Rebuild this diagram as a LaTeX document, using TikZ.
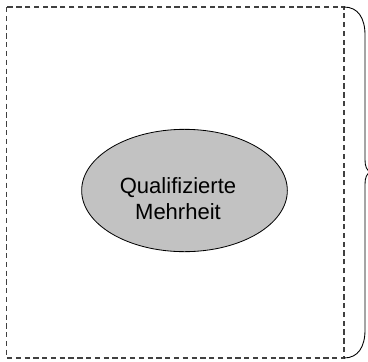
\documentclass[tikz,border=0pt]{standalone}
\usepackage{fontspec}
\setmainfont{Liberation Sans}
\usetikzlibrary{shapes.geometric}

\begin{document}
\begin{tikzpicture}[x=0.03cm, y=-0.03cm]
						\tikzstyle{frame}=[draw=black!75, line width=0.95pt, dash pattern=on 4.5pt off 3pt]
						\tikzstyle{blob}=[ellipse, draw, line width=0.7pt, fill=black!24, inner sep=0pt, minimum width=6.17cm, minimum height=3.67cm]
						\tikzstyle{word}=[inner sep=0pt, align=center, font=\fontsize{18.8}{22.5}\selectfont]
						\useasboundingbox (0,0) rectangle (368,361);
						\draw (6.5,7) coordinate (tl);
						\draw (344,358) coordinate (br);
						\draw[frame] (tl) rectangle (br);
						\draw (184.5,190.5) node (qm) [blob] {};
						\draw (178,198.7) node (qmtext) [word] {Qualifizierte\\Mehrheit};
						\draw (344,7) coordinate (b1);
						\draw (344,358) coordinate (b2);
						\draw[line width=0.75pt] (b1) .. controls (358,7) and (365,18) .. (365,35) -- (365,160)
							.. controls (365,167) and (367,170) .. (370,172)
							.. controls (367,174) and (365,177) .. (365,184) -- (365,330)
							.. controls (365,347) and (358,358) .. (b2);
					\end{tikzpicture}
\end{document}
